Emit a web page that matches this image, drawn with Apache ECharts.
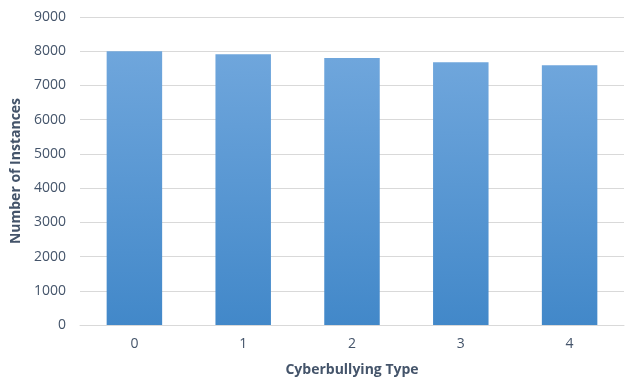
<!DOCTYPE html>
<html>
<head>
<meta charset="utf-8">
<script src="https://cdn.jsdelivr.net/npm/echarts@6/dist/echarts.min.js"></script>
<style>
  html, body { margin: 0; padding: 0; background: #fff; }
  #chart { width: 638px; height: 379px; }
</style>
</head>
<body>
<div id="chart"></div>
<script>
// Cyberbullying type counts
const categories = ['0', '1', '2', '3', '4'];
const instanceCounts = [8000, 7915, 7800, 7680, 7590];
const yTicks = { min: 0, max: 9000, interval: 1000 };

const textColor = '#44546a';
const fontFamily = '"Open Sans", "Liberation Sans", sans-serif';

const chart = echarts.init(document.getElementById('chart'), null, { renderer: 'canvas' });
chart.setOption({
  animation: false,
  grid: { left: 80, right: 14, top: 17, bottom: 54, containLabel: false, outerBoundsMode: 'none' },
  xAxis: {
    type: 'category',
    data: categories,
    name: 'Cyberbullying Type',
    nameLocation: 'middle',
    nameGap: 38,
    nameTextStyle: { color: textColor, fontSize: 14, fontWeight: 'bold', fontFamily },
    axisLine: { lineStyle: { color: '#d9d9d9', width: 1 } },
    axisTick: { show: false },
    axisLabel: { color: textColor, fontSize: 14, fontFamily, margin: 12 }
  },
  yAxis: {
    type: 'value',
    min: yTicks.min,
    max: yTicks.max,
    interval: yTicks.interval,
    name: 'Number of Instances',
    nameLocation: 'middle',
    nameGap: 57,
    nameTextStyle: { color: textColor, fontSize: 14, fontWeight: 'bold', fontFamily },
    axisLine: { show: false },
    axisTick: { show: false },
    axisLabel: { color: textColor, fontSize: 14, fontFamily, margin: 14, formatter: v => String(v) },
    splitLine: { lineStyle: { color: '#d9d9d9', width: 1 } }
  },
  series: [{
    type: 'bar',
    data: instanceCounts,
    barWidth: '51%',
    itemStyle: {
      color: new echarts.graphic.LinearGradient(0, 0, 0, 1, [
        { offset: 0, color: '#6fa6dc' },
        { offset: 1, color: '#4288c9' }
      ])
    }
  }]
});
</script>
</body>
</html>
